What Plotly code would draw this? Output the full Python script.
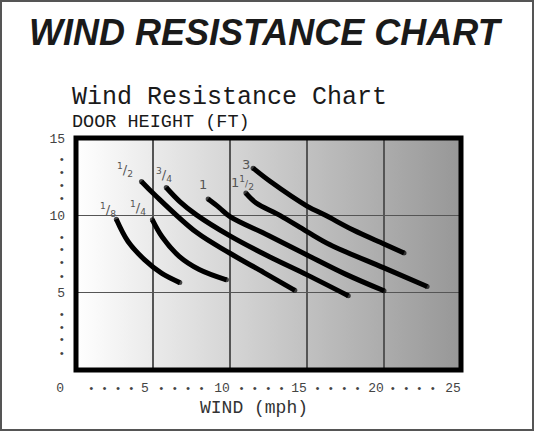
import base64
import plotly.graph_objects as go

# ---------------- data ----------------
series_names = ["1/8", "1/4", "1/2", "3/4", "1", "1 1/2", "3"]
x_1_8 = [2.62, 3.38, 4.46, 5.55, 6.74]
y_1_8 = [9.75, 8.31, 7.12, 6.26, 5.65]
x_1_4 = [4.96, 5.6, 6.7, 8.0, 9.77]
y_1_4 = [9.71, 8.6, 7.35, 6.5, 5.83]
x_1_2 = [4.25, 5.11, 7.82, 10.0, 12.2, 14.21]
y_1_2 = [12.19, 11.33, 8.9, 7.55, 6.3, 5.15]
x_3_4 = [5.86, 6.74, 7.82, 10.0, 12.5, 15.0, 17.68]
y_3_4 = [11.8, 10.89, 10.03, 8.67, 7.35, 6.15, 4.8]
x_1 = [8.58, 9.3, 10.0, 12.5, 15.0, 17.5, 20.0]
y_1 = [11.05, 10.5, 9.92, 8.7, 7.44, 6.2, 5.12]
x_1_1_2 = [11.03, 11.7, 13.24, 15.0, 16.5, 20.0, 22.8]
y_1_1_2 = [11.44, 10.8, 10.0, 8.95, 8.1, 6.6, 5.4]
x_3 = [11.5, 12.6, 15.0, 16.2, 18.0, 20.0, 21.3]
y_3 = [13.05, 12.2, 10.6, 10.0, 9.05, 8.15, 7.57]

# curve labels (text, x, y)
label_texts = ["<sup>1</sup>/<sub>8</sub>", "<sup>1</sup>/<sub>4</sub>", "<sup>1</sup>/<sub>2</sub>",
               "<sup>3</sup>/<sub>4</sub>", "1", "1<sup>1</sup><span style='font-size:9px'>/</span><sub>2</sub>", "3"]
label_x = [2.05, 4.03, 3.2, 5.72, 8.25, 10.79, 11.03]
label_y = [10.36, 10.47, 12.94, 12.62, 11.97, 12.08, 13.27]

# axis ticks
x_num_ticks = [0, 5, 10, 15, 20, 25]
x_num_text = ["0\u00a0\u00a0", "5", "10", "15", "20", "25"]
x_dot_ticks = [0.99, 1.86, 2.73, 3.59, 5.54, 6.41, 7.28, 8.15, 10.75, 11.61, 12.48, 13.35,
               15.69, 16.55, 17.42, 18.29, 20.57, 21.44, 22.3, 23.17]
y_num_ticks = [5, 10, 15]
y_num_text = ["5", "10", "15"]
y_dot_ticks = [1.13, 2.03, 2.83, 3.65, 6.13, 7.03, 7.83, 8.65, 11.13, 12.03, 12.83, 13.65]
dot_text = "<span style='font-size:11px'>•</span>"
grid_vals_x = [5, 10, 15, 20]
grid_vals_y = [5, 10]
x_range = [0, 25]
y_range = [0, 15]

# ---------------- layout geometry ----------------
W, H = 534, 431
ML, MR, MT, MB = 76, 73, 138, 61
PW, PH = W - ML - MR, H - MT - MB
px_per_x = PW / (x_range[1] - x_range[0])
XSHIFT = -8  # label shift in px


def pxx(px):
    return (px - ML) / PW


def pxy(py):
    return (H - MB - py) / PH


fig = go.Figure()

curves = [(x_1_8, y_1_8), (x_1_4, y_1_4), (x_1_2, y_1_2), (x_3_4, y_3_4),
          (x_1, y_1), (x_1_1_2, y_1_1_2), (x_3, y_3)]
for name, (xs, ys) in zip(series_names, curves):
    n = len(xs)
    fig.add_trace(go.Scatter(
        x=xs, y=ys, mode="lines+markers", name=name,
        line=dict(color="black", width=5, shape="spline", smoothing=1),
        marker=dict(color="black", size=[5] + [0] * (n - 2) + [5], line=dict(width=0)),
        hoverinfo="skip", showlegend=False))

# gradient background
svg = ('<svg xmlns="http://www.w3.org/2000/svg" width="100" height="100" preserveAspectRatio="none">'
       '<defs><linearGradient id="g" x1="0" x2="1" y1="0" y2="0">'
       '<stop offset="0" stop-color="#ffffff"/><stop offset="1" stop-color="#979797"/>'
       '</linearGradient></defs><rect width="100" height="100" fill="url(#g)"/></svg>')
src = "data:image/svg+xml;base64," + base64.b64encode(svg.encode()).decode()
fig.add_layout_image(dict(source=src, xref="x", yref="y", x=x_range[0], y=y_range[1],
                          sizex=x_range[1] - x_range[0], sizey=y_range[1] - y_range[0],
                          sizing="stretch", layer="below", xanchor="left", yanchor="top"))

mono = "Liberation Mono"
tick_font = dict(family=mono, size=13, color="#444444")

dot_shift = -XSHIFT / px_per_x
fig.update_xaxes(
    range=x_range, showgrid=False, zeroline=False, showline=False,
    tickmode="array",
    tickvals=x_num_ticks + [v + dot_shift for v in x_dot_ticks],
    ticktext=x_num_text + [dot_text] * len(x_dot_ticks),
    ticks="", tickfont=tick_font, ticklabelshift=XSHIFT, ticklabelstandoff=8,
    minor=dict(tickmode="array", tickvals=grid_vals_x, showgrid=True, gridcolor="#555555", gridwidth=1.5, ticks=""),
    fixedrange=True)
fig.update_yaxes(
    range=y_range, showgrid=False, zeroline=False, showline=False,
    tickmode="array",
    tickvals=y_num_ticks + y_dot_ticks,
    ticktext=y_num_text + [dot_text] * len(y_dot_ticks),
    ticks="", tickfont=tick_font, ticklabelstandoff=10,
    minor=dict(tickmode="array", tickvals=grid_vals_y, showgrid=True, gridcolor="#555555", gridwidth=1.5, ticks=""),
    fixedrange=True)

# frame and outer border
fig.add_shape(type="rect", xref="paper", yref="paper", x0=0, x1=1, y0=0, y1=1,
              line=dict(color="black", width=5), layer="above")
fig.add_shape(type="rect", xref="paper", yref="paper", x0=pxx(1), x1=pxx(W - 1), y0=pxy(H - 1), y1=pxy(1),
              line=dict(color="#555555", width=2), layer="above")

annotations = []
for t, lx, ly in zip(label_texts, label_x, label_y):
    annotations.append(dict(x=lx, y=ly, xref="x", yref="y", text=t, showarrow=False,
                            font=dict(family="DejaVu Sans", size=13, color="#555555")))

annotations += [
    dict(x=pxx(266), y=pxy(32), xref="paper", yref="paper", text="WIND RESISTANCE CHART",
         showarrow=False, xanchor="center", yanchor="middle",
         font=dict(family="Liberation Sans", size=36, color="#1a1a1a", weight="bold", style="italic")),
    dict(x=pxx(70), y=pxy(97), xref="paper", yref="paper", text="Wind Resistance Chart",
         showarrow=False, xanchor="left", yanchor="middle",
         font=dict(family=mono, size=25, color="#1a1a1a")),
    dict(x=pxx(70), y=pxy(123), xref="paper", yref="paper", text="DOOR HEIGHT (FT)",
         showarrow=False, xanchor="left", yanchor="middle",
         font=dict(family=mono, size=18.5, color="#1a1a1a")),
    dict(x=pxx(254), y=pxy(408), xref="paper", yref="paper", text="WIND (mph)",
         showarrow=False, xanchor="center", yanchor="middle",
         font=dict(family=mono, size=18, color="#333333")),
]

fig.update_layout(
    width=W, height=H, margin=dict(l=ML, r=MR, t=MT, b=MB, pad=0),
    paper_bgcolor="white", plot_bgcolor="white",
    annotations=annotations, showlegend=False)

fig.write_html("out.html",
               config={"displayModeBar": False, "staticPlot": True},
               post_script="document.body.style.margin='0';document.body.style.padding='0';"
                           "document.body.style.overflow='hidden';")
